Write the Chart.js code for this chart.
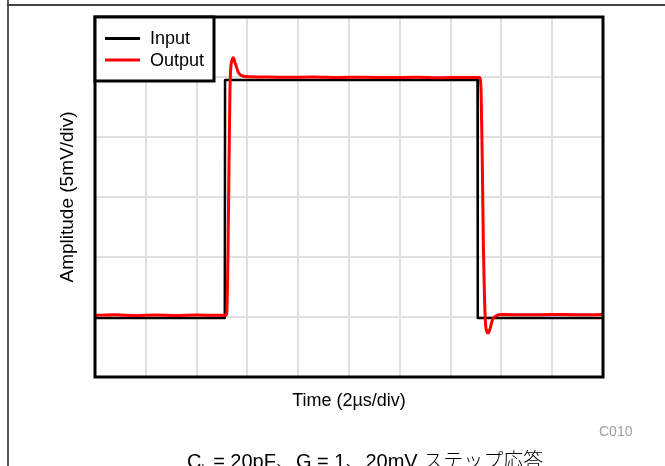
<!DOCTYPE html>
<html>
<head>
<meta charset="utf-8">
<script src="https://cdn.jsdelivr.net/npm/chart.js@4.4.1/dist/chart.umd.min.js"></script>
<style>
html,body{margin:0;padding:0;background:#fff;}
#wrap{position:relative;width:665px;height:466px;overflow:hidden;font-family:"Liberation Sans",Arial,sans-serif;}
#c{position:absolute;left:0;top:0;}
.vline{position:absolute;left:7px;top:0;width:2px;height:466px;background:#5a5a5a;}
.hline{position:absolute;left:7px;top:4px;width:658px;height:2px;background:#444;}
#code{position:absolute;left:599px;top:424px;font-size:14px;line-height:14px;color:#a0a0a0;white-space:nowrap;}
#cap{position:absolute;left:187px;top:450px;font-size:20px;line-height:20px;white-space:nowrap;color:#000;font-family:"Liberation Sans","Noto Sans CJK JP",sans-serif;}
#cap sub{font-size:11px;vertical-align:-4px;line-height:0;}
#cap .jp{font-family:"Noto Sans CJK JP",sans-serif;font-weight:300;}
</style>
</head>
<body>
<div id="wrap">
  <canvas id="c" width="665" height="466"></canvas>
  <div class="vline"></div>
  <div class="hline"></div>
  <div id="code">C010</div>
  <div id="cap">C<sub>L</sub> = 20pF<span class="jp">、</span>G = 1<span class="jp">、</span>20mV <span class="jp">ステップ応答</span></div>
</div>
<script>
// ---- data (time in µs, amplitude in mV) ----
const seriesNames = ['Input', 'Output'];
const xTitle = 'Time (2\u00b5s/div)';
const yTitle = 'Amplitude (5mV/div)';
const xLimits = [0, 20];
const yLimits = [0, 30];

const inputTime = [0, 5.11, 5.12, 15.06, 15.07, 20];
const inputAmp  = [4.92, 4.92, 24.75, 24.75, 4.92, 4.92];

const outputTime = [0, 0.8, 1.6, 2.4, 3.2, 4.0, 4.8, 5.18, 5.24, 5.28, 5.31, 5.34, 5.38, 5.45, 5.51, 5.56, 5.65, 5.78, 5.98,
  6.6, 7.6, 8.6, 9.6, 10.6, 11.6, 12.6, 13.6, 14.6, 15.14,
  15.20, 15.25, 15.29, 15.33, 15.37, 15.42, 15.48, 15.55, 15.65, 15.81, 16.0, 17.0, 18.0, 19.0, 20.0];
const outputAmp  = [5.14, 5.18, 5.12, 5.16, 5.13, 5.17, 5.14, 5.15, 11.0, 18.5, 23.5, 25.6, 26.3, 26.6, 26.2, 25.9, 25.35, 25.12, 25.04,
  25.0, 24.97, 25.0, 24.96, 24.98, 24.95, 24.97, 24.94, 24.96, 24.95,
  23.8, 17.5, 11.0, 7.0, 4.6, 3.85, 3.67, 4.0, 4.78, 5.11, 5.2, 5.18, 5.21, 5.19, 5.2];

const toPoints = (t, v) => t.map((x, i) => ({x, y: v[i]}));

Chart.defaults.font.family = '"Liberation Sans", Arial, sans-serif';
Chart.defaults.color = '#000';

const frameAndLegend = {
  id: 'frameAndLegend',
  afterDatasetsDraw(chart) {
    const {ctx, chartArea: a} = chart;
    ctx.save();
    ctx.strokeStyle = '#000';
    ctx.lineWidth = 3;
    ctx.strokeRect(a.left, a.top, a.right - a.left, a.bottom - a.top);
    // legend box
    const bx = a.left, by = a.top, bw = 119, bh = 64;
    ctx.fillStyle = '#fff';
    ctx.fillRect(bx, by, bw, bh);
    ctx.strokeRect(bx, by, bw, bh);
    ctx.font = '18px "Liberation Sans", Arial, sans-serif';
    ctx.textBaseline = 'middle';
    ctx.textAlign = 'left';
    const rows = [21.5, 43];
    chart.data.datasets.forEach((ds, i) => {
      const y = by + rows[i];
      ctx.strokeStyle = ds.borderColor;
      ctx.lineWidth = 3;
      ctx.beginPath();
      ctx.moveTo(bx + 10, y);
      ctx.lineTo(bx + 45, y);
      ctx.stroke();
      ctx.fillStyle = '#000';
      ctx.fillText(ds.label, bx + 55, y + 1);
    });
    ctx.restore();
  }
};

new Chart(document.getElementById('c'), {
  type: 'line',
  data: {
    datasets: [
      {label: seriesNames[0], data: toPoints(inputTime, inputAmp), borderColor: '#000000', borderWidth: 2.5,
       pointRadius: 0, tension: 0, borderJoinStyle: 'round', order: 1},
      {label: seriesNames[1], data: toPoints(outputTime, outputAmp), borderColor: '#ff0000', borderWidth: 3,
       pointRadius: 0, cubicInterpolationMode: 'monotone', borderJoinStyle: 'round', order: 0}
    ]
  },
  options: {
    responsive: false,
    animation: false,
    events: [],
    layout: {padding: {top: 17, right: 62, left: 0, bottom: 0}},
    plugins: {legend: {display: false}, tooltip: {enabled: false}},
    scales: {
      x: {
        type: 'linear', min: xLimits[0], max: xLimits[1],
        ticks: {display: false, stepSize: 2},
        grid: {color: '#e0e0e0', lineWidth: 2, drawTicks: false},
        border: {display: false},
        title: {display: true, text: xTitle, font: {size: 18, lineHeight: 1}, padding: {top: 0, bottom: 56}},
        afterFit(s) { s.height = 89; }
      },
      y: {
        type: 'linear', min: yLimits[0], max: yLimits[1],
        ticks: {display: false, stepSize: 5},
        grid: {color: '#e0e0e0', lineWidth: 2, drawTicks: false},
        border: {display: false},
        title: {display: true, text: yTitle, font: {size: 19, lineHeight: 1}, padding: {top: 58, bottom: 0}},
        afterFit(s) { s.width = 95; }
      }
    }
  },
  plugins: [frameAndLegend]
});
</script>
</body>
</html>
